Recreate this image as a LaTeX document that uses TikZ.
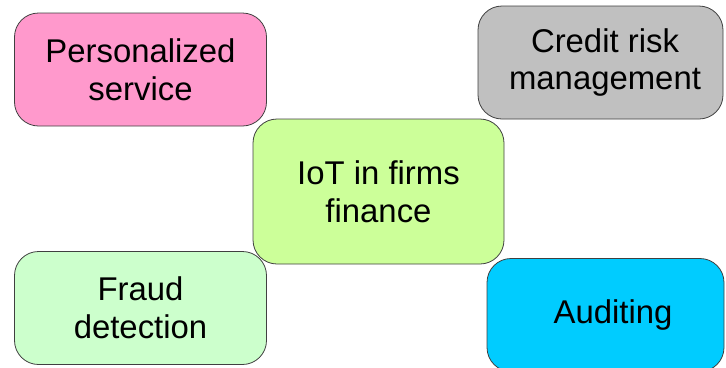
\documentclass[tikz,border=0pt]{standalone}
\usepackage{fontspec}
\setmainfont{Liberation Sans}
\usepackage{tikz}
\usetikzlibrary{shapes,positioning,calc}
\definecolor{pinkfill}{RGB}{255,153,204}
\definecolor{greyfill}{RGB}{192,192,192}
\definecolor{limefill}{RGB}{204,255,153}
\definecolor{mintfill}{RGB}{204,255,204}
\definecolor{skyfill}{RGB}{0,204,255}

\begin{document}
\begin{tikzpicture}[x=1bp, y=-1bp]
    % Define node styles
    \tikzstyle{topic} = [rectangle, draw=black!75, line width=0.8bp, rounded corners=24bp, align=center, minimum width=252bp, minimum height=113bp, inner sep=0pt, font=\fontsize{33}{38}\selectfont]
    \tikzstyle{hub} = [topic, minimum width=251bp, minimum height=145bp]

    % Canvas
    \useasboundingbox (0,0) rectangle (726,367);
    \clip (0,0) rectangle (726,367);

    % Corner topics
    \node[topic, fill=pinkfill] (pers) at (140.5,69.5) {Personalized\\service};
    \node[topic, fill=greyfill, minimum width=245bp] (credit) at (600.5,62.5) {\hspace*{9bp}Credit risk\\\hspace*{9bp}management};
    \node[topic, fill=mintfill] (fraud) at (140.5,308) {Fraud\\detection};
    \node[topic, fill=skyfill, minimum width=237bp] (audit) at (605.5,315) {\hspace*{15bp}Auditing};

    % Centre
    \node[hub, fill=limefill] (iot) at (378.5,191.5) {IoT in firms\\finance};
\end{tikzpicture}
\end{document}
